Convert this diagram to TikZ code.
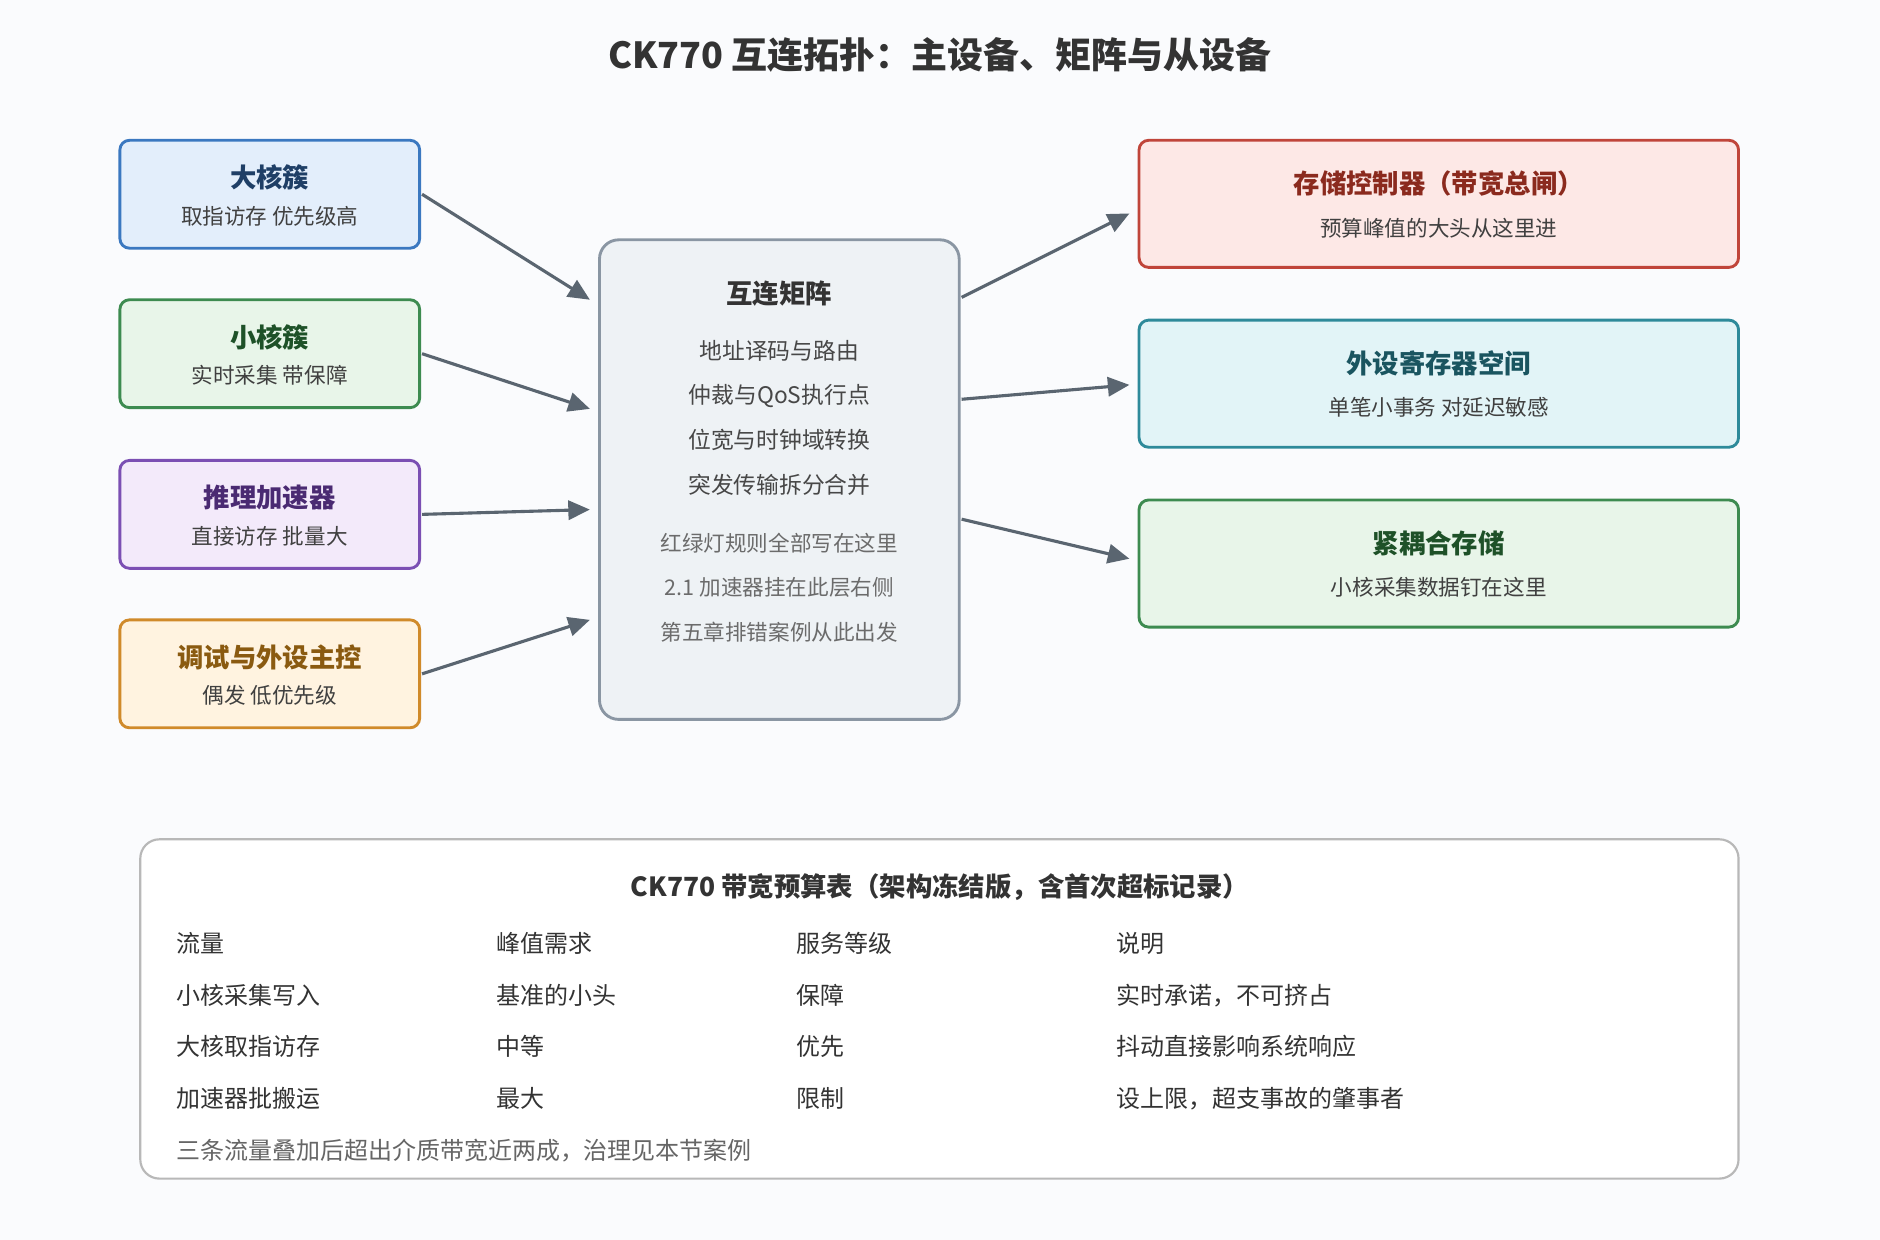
\documentclass[tikz,border=0pt]{standalone}
\usepackage{fontspec}
\setmainfont{Noto Sans CJK SC}
\usetikzlibrary{arrows.meta}
\definecolor{bg}{HTML}{FAFBFD}
\definecolor{arr}{HTML}{5A6570}
\definecolor{mxf}{HTML}{EEF2F5}
\definecolor{mxd}{HTML}{8A96A3}
\begin{document}
\begin{tikzpicture}[x=0.5pt,y=-0.5pt,
  box/.style={draw, line width=1.2pt, rounded corners=4pt},
  ttl/.style={font=\fontsize{11}{13}\selectfont\bfseries},
  sub/.style={font=\fontsize{9}{11}\selectfont, text=black!75},
  mx/.style={font=\fontsize{9.5}{11}\selectfont, text=black!72},
  mx2/.style={font=\fontsize{9}{11}\selectfont, text=black!58},
  tb/.style={font=\fontsize{10}{12}\selectfont, text=black!80, anchor=west},
  a/.style={draw=arr, line width=1.3pt, -{Triangle[length=9pt,width=8pt]}}]
\fill[bg] (0,0) rectangle (1568,1034);
\useasboundingbox (0,0) rectangle (1568,1034);
\node[font=\fontsize{15}{18}\selectfont\bfseries, text=black!80] (title) at (784,46) {CK770 互连拓扑：主设备、矩阵与从设备};
% left boxes
\def\lbox#1#2#3#4#5#6#7{%
 \definecolor{f#1}{HTML}{#3}\definecolor{d#1}{HTML}{#4}\definecolor{t#1}{HTML}{#5}%
 \draw[box, fill=f#1, draw=d#1] (100,#2) rectangle (350,#2+90);
 \node[ttl, text=t#1] (#1t) at (225,#2+31) {#6};
 \node[sub] (#1s) at (225,#2+63) {#7};
 \coordinate (#1) at (352,#2+45);}
\lbox{big}{117}{E3EEFB}{3B78C0}{1F3F66}{大核簇}{取指访存 优先级高}
\lbox{lit}{250}{E8F5E9}{3D8B50}{1E5128}{小核簇}{实时采集 带保障}
\lbox{acc}{384}{F3EAFA}{7B4FB3}{4A2A72}{推理加速器}{直接访存 批量大}
\lbox{dbg}{517}{FFF3E0}{D08A2A}{8A5A10}{调试与外设主控}{偶发 低优先级}
% matrix
\draw[box, fill=mxf, draw=mxd, rounded corners=8pt] (500,200) rectangle (800,600);
\node[ttl, text=black!80] (mt) at (650,245) {互连矩阵};
\node[mx] (m1) at (650,293) {地址译码与路由};
\node[mx] (m2) at (650,330) {仲裁与QoS执行点};
\node[mx] (m3) at (650,367) {位宽与时钟域转换};
\node[mx] (m4) at (650,404) {突发传输拆分合并};
\node[mx2] (m5) at (650,453) {红绿灯规则全部写在这里};
\node[mx2] (m6) at (650,490) {2.1 加速器挂在此层右侧};
\node[mx2] (m7) at (650,527) {第五章排错案例从此出发};
% right boxes
\def\rbox#1#2#3#4#5#6#7{%
 \definecolor{f#1}{HTML}{#3}\definecolor{d#1}{HTML}{#4}\definecolor{t#1}{HTML}{#5}%
 \draw[box, fill=f#1, draw=d#1] (950,#2) rectangle (1450,#2+106);
 \node[ttl, text=t#1] (#1t) at (1200,#2+36) {#6};
 \node[sub] (#1s) at (1200,#2+73) {#7};}
\rbox{mem}{117}{FDE8E6}{C0453A}{8B2A1E}{存储控制器（带宽总闸）}{预算峰值的大头从这里进}
\rbox{per}{267}{E2F4F7}{2E8A9A}{1A5560}{外设寄存器空间}{单笔小事务 对延迟敏感}
\rbox{tcm}{417}{E8F5E9}{3D8B50}{1E5128}{紧耦合存储}{小核采集数据钉在这里}
\coordinate (i1) at (492,250); \coordinate (i2) at (492,341);
\coordinate (i3) at (492,425); \coordinate (i4) at (492,517);
\coordinate (o1) at (802,248); \coordinate (o2) at (802,333); \coordinate (o3) at (802,433);
\coordinate (e1) at (942,178); \coordinate (e2) at (942,321); \coordinate (e3) at (942,466);
\draw[a] (big) -- (i1); \draw[a] (lit) -- (i2); \draw[a] (acc) -- (i3); \draw[a] (dbg) -- (i4);
\draw[a] (o1) -- (e1); \draw[a] (o2) -- (e2); \draw[a] (o3) -- (e3);
% table
\draw[line width=0.9pt, draw=black!28, fill=white, rounded corners=8pt] (117,700) rectangle (1450,983);
\node[ttl, text=black!80] (tt) at (784,740) {CK770 带宽预算表（架构冻结版，含首次超标记录）};
\foreach \y/\a/\b/\c/\d [count=\i] in {787/流量/峰值需求/服务等级/说明,
  830/小核采集写入/基准的小头/保障/{实时承诺，不可挤占},
  873/大核取指访存/中等/优先/抖动直接影响系统响应,
  916/加速器批搬运/最大/限制/{设上限，超支事故的肇事者}}{
  \node[tb] (r\i a) at (140,\y) {\a};
  \node[tb] (r\i b) at (407,\y) {\b};
  \node[tb] (r\i c) at (657,\y) {\c};
  \node[tb] (r\i d) at (924,\y) {\d};}
\node[tb, text=black!60] (foot) at (140,960) {三条流量叠加后超出介质带宽近两成，治理见本节案例};
\end{tikzpicture}
\end{document}
